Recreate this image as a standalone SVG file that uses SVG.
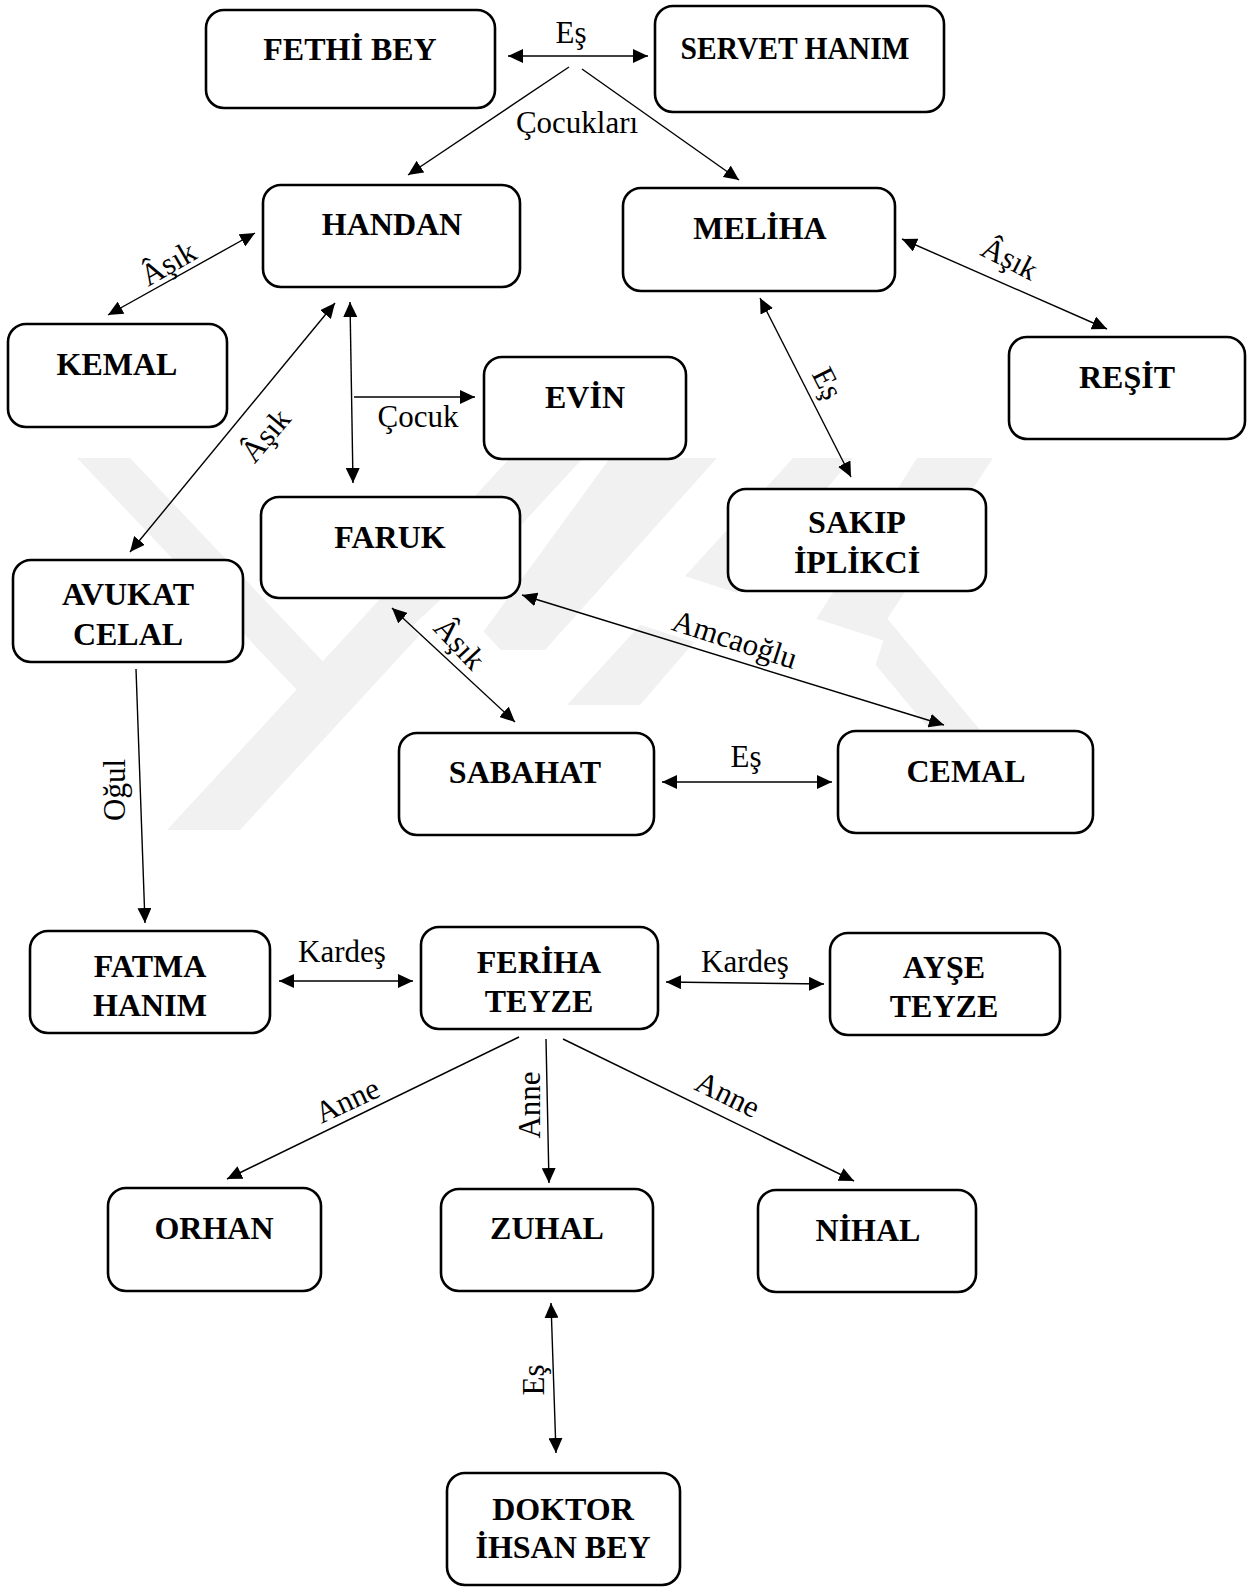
<svg xmlns="http://www.w3.org/2000/svg" width="1251" height="1588" viewBox="0 0 1251 1588">
<style>
.wm{fill:#f1f1f1;stroke:none}
.lbg{fill:#fff;stroke:none}
.box{fill:#ffffff;stroke:#000;stroke-width:2.6}
.nt{font-family:"Liberation Serif","Times New Roman",serif;font-weight:bold;font-size:32px;text-anchor:middle;fill:#000}
.lb{font-family:"Liberation Serif","Times New Roman",serif;font-size:31px;text-anchor:middle;fill:#000}
.c{stroke:#000;stroke-width:1.4;fill:none}
.a{marker-end:url(#ah)}
.d{marker-start:url(#ah);marker-end:url(#ah)}
</style>
<defs>
<marker id="ah" markerUnits="userSpaceOnUse" markerWidth="16" markerHeight="14" refX="15" refY="7" orient="auto-start-reverse">
<path d="M0,0 L15,7 L0,14 z" fill="#000"/>
</marker>
</defs>
<rect width="1251" height="1588" fill="#fff"/>
<g id="watermark">
<polygon class="wm" points="77,458 130,458 350,690 297,690"/>
<polygon class="wm" points="510,458 583,458 240,830 167,830"/>
<polygon class="wm" points="610,458 717,458 545,650 470,650"/>
<polygon class="wm" points="793,458 853,458 640,705 567,705"/>
<polygon class="wm" points="917,458 993,458 870,645 800,645"/>
<polygon class="wm" points="830,610 880,610 980,730 930,730"/>
</g>
<g id="label-backgrounds">
<rect class="lbg" x="-120" y="-30" width="240" height="60" transform="translate(760,632) rotate(18)"/>
<rect class="lbg" x="-45" y="-25" width="90" height="50" transform="translate(460,643) rotate(47)"/>
</g>
<g id="connectors">
<line class="c d" x1="508" y1="56" x2="648" y2="56"/>
<line class="c a" x1="569" y1="67" x2="408" y2="175"/>
<line class="c a" x1="582" y1="69" x2="739" y2="180"/>
<line class="c d" x1="255" y1="233" x2="108" y2="315"/>
<line class="c d" x1="335" y1="303" x2="130" y2="552"/>
<line class="c d" x1="350" y1="302" x2="353" y2="483"/>
<line class="c a" x1="354" y1="397" x2="475" y2="397"/>
<line class="c d" x1="760" y1="298" x2="851" y2="477"/>
<line class="c d" x1="902" y1="239" x2="1107" y2="329"/>
<line class="c d" x1="392" y1="608" x2="515" y2="722"/>
<line class="c d" x1="522" y1="595" x2="944" y2="725"/>
<line class="c a" x1="136" y1="669" x2="145" y2="923"/>
<line class="c d" x1="662" y1="782" x2="832" y2="782"/>
<line class="c d" x1="279" y1="981" x2="413" y2="981"/>
<line class="c d" x1="666" y1="982" x2="824" y2="984"/>
<line class="c a" x1="519" y1="1037" x2="227" y2="1179"/>
<line class="c a" x1="546" y1="1039" x2="549" y2="1183"/>
<line class="c a" x1="563" y1="1039" x2="854" y2="1181"/>
<line class="c d" x1="551" y1="1303" x2="556" y2="1453"/>
<text class="lb" x="571" y="43">Eş</text>
<text class="lb" x="577" y="133">Çocukları</text>
<text class="lb" transform="translate(168,263) rotate(-30)" dy="0.35em">Âşık</text>
<text class="lb" transform="translate(265,435) rotate(-50)" dy="0.35em">Âşık</text>
<text class="lb" x="418" y="427">Çocuk</text>
<text class="lb" transform="translate(828,383) rotate(63)" dy="0.35em">Eş</text>
<text class="lb" transform="translate(1010,258) rotate(27)" dy="0.35em">Âşık</text>
<text class="lb" transform="translate(460,643) rotate(47)" dy="0.35em">Âşık</text>
<text class="lb" transform="translate(735,639) rotate(18)" dy="0.35em">Amcaoğlu</text>
<text class="lb" transform="translate(114,790) rotate(-90)" dy="0.35em">Oğul</text>
<text class="lb" x="746" y="767">Eş</text>
<text class="lb" x="342" y="962">Kardeş</text>
<text class="lb" x="745" y="972">Kardeş</text>
<text class="lb" transform="translate(347,1100) rotate(-25)" dy="0.35em">Anne</text>
<text class="lb" transform="translate(529,1105) rotate(-90)" dy="0.35em">Anne</text>
<text class="lb" transform="translate(728,1094) rotate(26)" dy="0.35em">Anne</text>
<text class="lb" transform="translate(533,1380) rotate(-90)" dy="0.35em">Eş</text>
</g>
<g id="n-fethi"><rect class="box" x="206" y="10" width="289" height="98" rx="18"/><text class="nt" x="350" y="60">FETHİ BEY</text></g>
<g id="n-servet"><rect class="box" x="655" y="6" width="289" height="106" rx="18"/><text class="nt" x="795" y="59" textLength="229" lengthAdjust="spacingAndGlyphs">SERVET HANIM</text></g>
<g id="n-handan"><rect class="box" x="263" y="185" width="257" height="102" rx="18"/><text class="nt" x="392" y="235">HANDAN</text></g>
<g id="n-meliha"><rect class="box" x="623" y="188" width="272" height="103" rx="18"/><text class="nt" x="760" y="239">MELİHA</text></g>
<g id="n-kemal"><rect class="box" x="8" y="324" width="219" height="103" rx="18"/><text class="nt" x="117" y="375">KEMAL</text></g>
<g id="n-evin"><rect class="box" x="484" y="357" width="202" height="102" rx="18"/><text class="nt" x="585" y="408">EVİN</text></g>
<g id="n-reshit"><rect class="box" x="1009" y="337" width="236" height="102" rx="18"/><text class="nt" x="1127" y="388">REŞİT</text></g>
<g id="n-faruk"><rect class="box" x="261" y="497" width="259" height="101" rx="18"/><text class="nt" x="390" y="548">FARUK</text></g>
<g id="n-sakip"><rect class="box" x="728" y="489" width="258" height="102" rx="18"/><text class="nt" x="857" y="533">SAKIP</text><text class="nt" x="857" y="573">İPLİKCİ</text></g>
<g id="n-avukat"><rect class="box" x="13" y="560" width="230" height="102" rx="18"/><text class="nt" x="128" y="605">AVUKAT</text><text class="nt" x="128" y="645">CELAL</text></g>
<g id="n-sabahat"><rect class="box" x="399" y="733" width="255" height="102" rx="18"/><text class="nt" x="525" y="783">SABAHAT</text></g>
<g id="n-cemal"><rect class="box" x="838" y="731" width="255" height="102" rx="18"/><text class="nt" x="966" y="782">CEMAL</text></g>
<g id="n-fatma"><rect class="box" x="30" y="931" width="240" height="102" rx="18"/><text class="nt" x="150" y="977">FATMA</text><text class="nt" x="150" y="1016">HANIM</text></g>
<g id="n-feriha"><rect class="box" x="421" y="927" width="237" height="102" rx="18"/><text class="nt" x="539" y="973">FERİHA</text><text class="nt" x="539" y="1012">TEYZE</text></g>
<g id="n-ayse"><rect class="box" x="830" y="933" width="230" height="102" rx="18"/><text class="nt" x="944" y="978">AYŞE</text><text class="nt" x="944" y="1017">TEYZE</text></g>
<g id="n-orhan"><rect class="box" x="108" y="1188" width="213" height="103" rx="18"/><text class="nt" x="214" y="1239">ORHAN</text></g>
<g id="n-zuhal"><rect class="box" x="441" y="1189" width="212" height="102" rx="18"/><text class="nt" x="547" y="1239">ZUHAL</text></g>
<g id="n-nihal"><rect class="box" x="758" y="1190" width="218" height="102" rx="18"/><text class="nt" x="868" y="1241">NİHAL</text></g>
<g id="n-doktor"><rect class="box" x="447" y="1473" width="233" height="112" rx="18"/><text class="nt" x="563" y="1520">DOKTOR</text><text class="nt" x="563" y="1558">İHSAN BEY</text></g>
</svg>
